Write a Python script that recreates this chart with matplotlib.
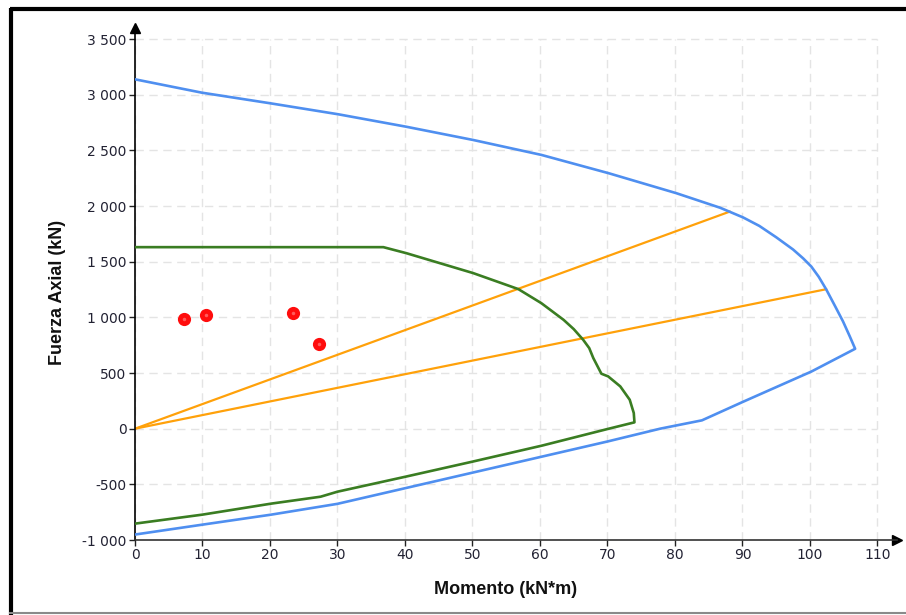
import matplotlib

matplotlib.use("Agg")

import matplotlib.pyplot as plt
from matplotlib.lines import Line2D
from matplotlib.ticker import FuncFormatter

# Interaction diagram, nominal capacity (kN*m, kN)
nominal_m = [0, 9.9, 20, 30.1, 40.1, 50.1, 60.2, 70.2, 80.2, 86.7, 90.1, 92.5,
             95.0, 97.5, 99.0, 100.2, 101.3, 102.4, 103.7, 104.9, 105.9, 106.7,
             100.2, 90.1, 84.0, 77.8, 70.0, 60.0, 50.0, 40.0, 30.0, 20.2,
             10.0, 0]
nominal_p = [3139, 3019, 2924, 2825, 2714, 2594, 2460, 2295, 2116, 1985, 1898,
             1822, 1720, 1610, 1530, 1457, 1365, 1253, 1104, 964, 830, 718,
             513, 242, 75, 0, -115, -255, -395, -535, -675, -772, -862, -951]

# Design capacity (phi * Mn, phi * Pn)
design_m = [0, 36.8, 40.2, 50.1, 56.8, 60.2, 63.5, 65.0, 66.4, 67.3, 67.9,
            69.1, 70.1, 71.9, 73.3, 73.9, 74.0, 70.0, 60.3, 50.0, 40.1, 30.0,
            27.5, 20.2, 10.0, 0]
design_p = [1631, 1631, 1577, 1398, 1254, 1128, 978, 895, 799, 724, 635, 494,
            470, 380, 260, 141, 57, -3, -152, -296, -431, -566, -611, -673,
            -772, -853]

# Radial eccentricity lines from the origin to the nominal curve
ecc_m = [88.1, 102.4]
ecc_p = [1950, 1253]

# Load combinations
load_m = [7.3, 10.5, 23.4, 27.2]
load_p = [985, 1023, 1039, 760]

x_ticks = list(range(0, 111, 10))
y_ticks = list(range(-1000, 3501, 500))

TEXT_COLOR = "#222233"


def thousands(value, _pos):
    return f"{int(value):,}".replace(",", " ")


def draw_frame(fig):
    w, h = 906, 615
    fig.add_artist(Line2D([11 / w, 11 / w], [0, 1 - 8 / h], color="black",
                          lw=3, solid_capstyle="butt"))
    fig.add_artist(Line2D([10 / w, 1], [1 - 9 / h, 1 - 9 / h], color="black",
                          lw=3, solid_capstyle="butt"))
    fig.add_artist(Line2D([10 / w, 1], [1 - 613 / h, 1 - 613 / h],
                          color="#8a8a8a", lw=1.5))


def main():
    fig = plt.figure(figsize=(9.06, 6.15), dpi=100)
    ax = fig.add_axes([135 / 906, 75 / 615, 762 / 906, 512 / 615])

    ax.set_xlim(0, 112.9)
    ax.set_ylim(-1000, 3600)

    # grid limited to the tick range
    dash = (0, (6, 4))
    ax.hlines(y_ticks, 0, 110, colors="#e4e4e4", lw=1, linestyles=dash, zorder=0)
    ax.vlines(x_ticks, -1000, 3500, colors="#e4e4e4", lw=1, linestyles=dash, zorder=0)

    ax.plot(nominal_m, nominal_p, color="#4f8ff0", lw=1.9, zorder=3)
    ax.plot(design_m, design_p, color="#3a7d22", lw=1.9, zorder=3)
    for m, p in zip(ecc_m, ecc_p):
        ax.plot([0, m], [0, p], color="#ffa10a", lw=1.6, zorder=2)
    ax.plot(load_m, load_p, "o", color="#ff0d0d", ms=9.5, mew=0, zorder=4)
    ax.plot(load_m, load_p, "o", color="#ff5c5c", ms=2.5, mew=0, zorder=5)

    for side in ("top", "right"):
        ax.spines[side].set_visible(False)
    ax.spines["left"].set_color("black")
    ax.spines["bottom"].set_color("#333333")
    ax.spines["left"].set_linewidth(1.2)
    ax.spines["bottom"].set_linewidth(1.2)

    # arrow heads at the ends of the axes
    ax.plot(1, 0, ">", color="black", ms=7, transform=ax.transAxes, clip_on=False)
    ax.plot(0, 1, "^", color="black", ms=7, transform=ax.transAxes, clip_on=False)

    ax.set_xticks(x_ticks)
    ax.set_yticks(y_ticks)
    ax.yaxis.set_major_formatter(FuncFormatter(thousands))
    ax.tick_params(direction="out", length=4, width=1, labelsize=10,
                   labelcolor=TEXT_COLOR, colors="#222222", pad=2)

    fig.text(506 / 906, 1 - 590 / 615, "Momento (kN*m)", ha="center",
             va="center", fontsize=13, fontweight="bold",
             family="Liberation Sans", color="#111111")
    fig.text(58 / 906, 1 - 292 / 615, "Fuerza Axial (kN)", ha="center",
             va="center", rotation=90, fontsize=13, fontweight="bold",
             family="Liberation Sans", color="#111111")

    draw_frame(fig)
    fig.savefig("out.png", dpi=100, facecolor="white")
    plt.close(fig)


if __name__ == "__main__":
    main()
